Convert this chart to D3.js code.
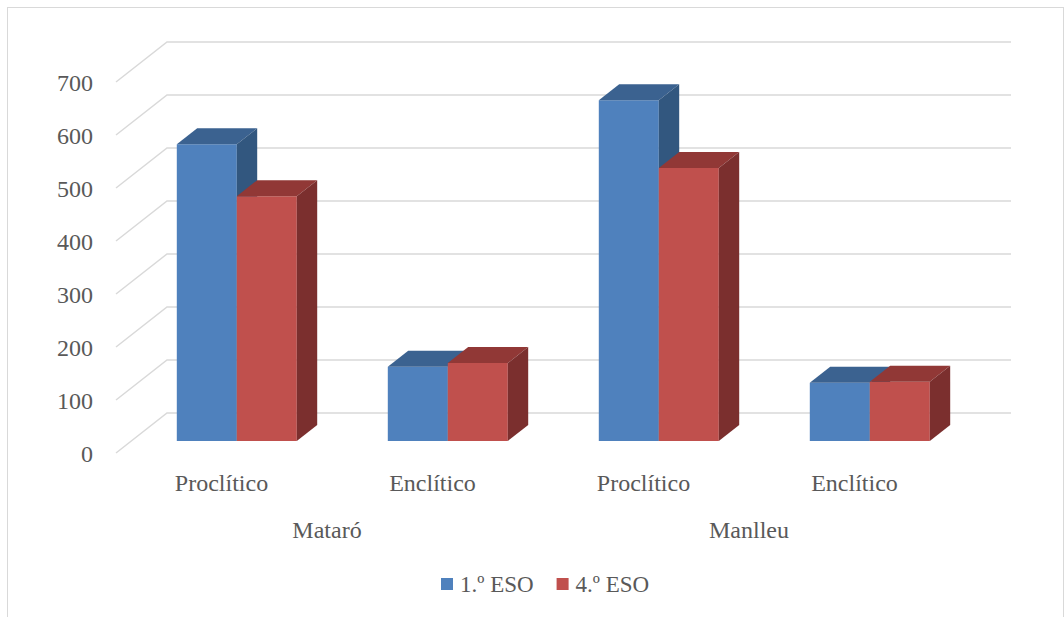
<!DOCTYPE html>
<html>
<head>
<meta charset="utf-8">
<script src="https://cdn.jsdelivr.net/npm/d3@7"></script>
<style>
  html, body { margin: 0; padding: 0; background: #fff; }
  svg text { font-family: "Liberation Serif", "DejaVu Serif", serif; fill: #595959; }
</style>
</head>
<body>
<div id="root"><svg width="1064" height="617"></svg></div>
<script>
const groups = ['Mataró', 'Manlleu'];
const categories = ['Proclítico', 'Enclítico'];
const series = ['1.º ESO', '4.º ESO'];
const values1 = [560, 140, 643, 110];
const values4 = [462, 147, 515, 112];
const yTicks = [0, 100, 200, 300, 400, 500, 600, 700];

const colors = {
  '1.º ESO': { front: '#4f81bd', top: '#3b6290', side: '#32577f' },
  '4.º ESO': { front: '#c0504d', top: '#913836', side: '#7b2f2e' }
};

function drawChart() {
  const svg = d3.select('#root svg');
  const plotLeft = 116;
  const plotWidth = 844;
  const depthX = 51;
  const depthY = -40;
  const barFront = 0.3;
  const barBack = 0.7;

  // chart border
  svg.append('rect')
    .attr('x', 7.5).attr('y', 7.5)
    .attr('width', 1056).attr('height', 640)
    .attr('fill', 'none').attr('stroke', '#d9d9d9').attr('stroke-width', 1);

  const slots = [];
  groups.forEach((g) => categories.forEach((c) => slots.push(g + '|' + c)));

  const xScale = d3.scaleBand().domain(slots).range([plotLeft, plotLeft + plotWidth]);
  const groupScale = d3.scaleBand().domain(groups).range([plotLeft, plotLeft + plotWidth]);
  const barW = 60;
  const sScale = d3.scaleBand().domain(series)
    .range([(xScale.bandwidth() - 2 * barW) / 2, (xScale.bandwidth() + 2 * barW) / 2]);
  const yScale = d3.scaleLinear().domain([0, 700]).range([453, 82]);

  const proj = (x, v, d) => [x + d * depthX, yScale(v) + d * depthY];

  // gridlines (side wall + back wall)
  const line = d3.line();
  svg.append('g').selectAll('path')
    .data(yTicks)
    .enter()
    .append('path')
    .attr('d', (v) => line([proj(plotLeft, v, 0), proj(plotLeft, v, 1), proj(plotLeft + plotWidth, v, 1)]))
    .attr('fill', 'none')
    .attr('stroke', '#d9d9d9')
    .attr('stroke-width', 1.5);

  // y axis labels
  const yAxis = d3.axisLeft(yScale).tickValues(yTicks).tickSize(0).tickPadding(23);
  const yG = svg.append('g')
    .attr('transform', `translate(${plotLeft} 1)`)
    .call(yAxis);
  yG.select('.domain').remove();
  yG.selectAll('text')
    .attr('font-family', '"Liberation Serif", serif')
    .attr('font-size', '24px')
    .attr('fill', '#595959');

  // bars
  const bars = [];
  slots.forEach((slot, i) => {
    bars.push({ slot: slot, s: series[0], v: values1[i] });
    bars.push({ slot: slot, s: series[1], v: values4[i] });
  });

  const poly = (pts) => 'M' + pts.map((p) => p.join(',')).join('L') + 'Z';

  svg.append('g').selectAll('g.bar')
    .data(bars)
    .enter()
    .append('g')
    .attr('class', 'bar')
    .each(function(d) {
      const g = d3.select(this);
      const x0 = xScale(d.slot) + sScale(d.s);
      const x1 = x0 + sScale.bandwidth();
      const c = colors[d.s];
      g.append('path')
        .attr('d', poly([proj(x0, 0, barFront), proj(x1, 0, barFront), proj(x1, d.v, barFront), proj(x0, d.v, barFront)]))
        .attr('fill', c.front);
      g.append('path')
        .attr('d', poly([proj(x0, d.v, barFront), proj(x1, d.v, barFront), proj(x1, d.v, barBack), proj(x0, d.v, barBack)]))
        .attr('fill', c.top);
      g.append('path')
        .attr('d', poly([proj(x1, 0, barFront), proj(x1, 0, barBack), proj(x1, d.v, barBack), proj(x1, d.v, barFront)]))
        .attr('fill', c.side);
    });

  // category labels
  svg.append('g').selectAll('text')
    .data(slots)
    .enter()
    .append('text')
    .attr('x', (d) => xScale(d) + xScale.bandwidth() / 2)
    .attr('y', 491)
    .attr('text-anchor', 'middle')
    .attr('font-size', '24px')
    .text((d) => d.split('|')[1]);

  // group labels
  svg.append('g').selectAll('text')
    .data(groups)
    .enter()
    .append('text')
    .attr('x', (d) => groupScale(d) + groupScale.bandwidth() / 2)
    .attr('y', 538)
    .attr('text-anchor', 'middle')
    .attr('font-size', '24px')
    .text((d) => d);

  // legend
  const legend = svg.append('g').attr('transform', 'translate(441 0)');
  let lx = 0;
  series.forEach((s) => {
    legend.append('rect')
      .attr('x', lx).attr('y', 578)
      .attr('width', 12).attr('height', 12)
      .attr('fill', colors[s].front);
    const t = legend.append('text')
      .attr('x', lx + 19)
      .attr('y', 592)
      .attr('font-size', '23px')
      .text(s);
    lx += 19 + t.node().getComputedTextLength() + 23;
  });
}

window.addEventListener('load', function() {
  drawChart();
});
</script>
</body>
</html>
